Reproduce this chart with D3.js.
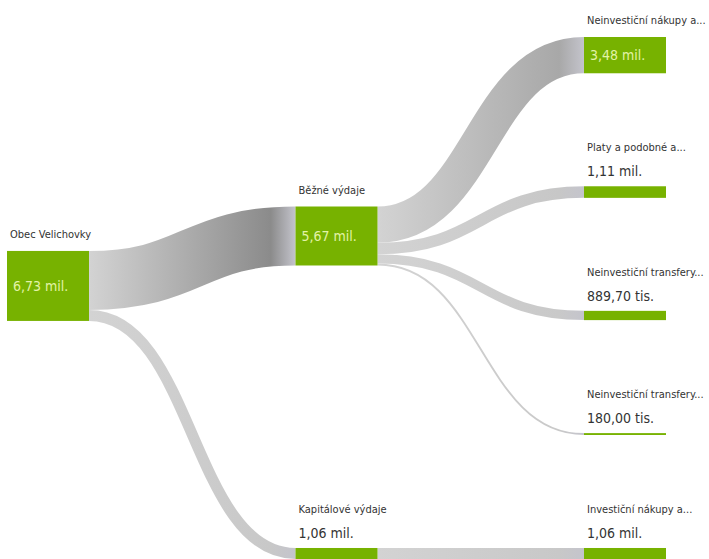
<!DOCTYPE html>
<html>
<head>
<meta charset="utf-8">
<script src="https://cdn.jsdelivr.net/npm/d3@7"></script>
<style>
  html, body { margin: 0; padding: 0; background: #fff; }
  svg { display: block; }
  text { font-family: 'DejaVu Sans Condensed', 'Liberation Sans Narrow', sans-serif; font-stretch: condensed; }
</style>
</head>
<body>
<svg id="svg" width="709" height="559"></svg>
<script>
// uzly a toky rozpočtu (hodnoty v tis. Kč)
const nodeNames = [
  'Obec Velichovky', 'Běžné výdaje', 'Kapitálové výdaje',
  'Neinvestiční nákupy a...', 'Platy a podobné a...',
  'Neinvestiční transfery...', 'Neinvestiční transfery...',
  'Investiční nákupy a...'
]
const linkSources = [0, 0, 1, 1, 1, 1, 2]
const linkTargets = [1, 2, 3, 4, 5, 6, 7]
const linkValues = [5667.7, 1058, 3485, 1113, 889.7, 180, 1058]

const nodeWidth = 82
const nodePadding = 113
const x0 = 7, x1 = 666, y0 = 37, y1 = 559

const fmt = (v) => v >= 1000
  ? d3.format('.2f')(v / 1000).replace('.', ',') + ' mil.'
  : d3.format('.2f')(v).replace('.', ',') + ' tis.'

// jednoduchý sankey layout: listy rozprostřené na celou výšku,
// rodiče se skládají zprava doleva podle svých potomků
const layout = (nodes, links) => {
  nodes.forEach((n) => { n.sourceLinks = []; n.targetLinks = [] })
  links.forEach((l) => { l.source.sourceLinks.push(l); l.target.targetLinks.push(l) })
  nodes.forEach((n) => {
    n.value = Math.max(d3.sum(n.sourceLinks, (l) => l.value), d3.sum(n.targetLinks, (l) => l.value))
  })
  const depthOf = (n) => n.targetLinks.length ? d3.max(n.targetLinks, (l) => depthOf(l.source)) + 1 : 0
  nodes.forEach((n) => { n.depth = depthOf(n) })
  const maxDepth = d3.max(nodes, (n) => n.depth)
  nodes.forEach((n) => { n.layer = n.sourceLinks.length ? n.depth : maxDepth })

  const xScale = d3.scaleLinear().domain([0, maxDepth]).range([x0, x1 - nodeWidth])
  nodes.forEach((n) => { n.x0 = xScale(n.layer); n.x1 = n.x0 + nodeWidth })

  const columns = d3.range(maxDepth + 1).map((i) => nodes.filter((n) => n.layer === i))
  const leaves = columns[maxDepth]
  const hScale = d3.scaleLinear()
    .domain([0, d3.sum(leaves, (n) => n.value)])
    .range([0, y1 - y0 - (leaves.length - 1) * nodePadding])
  links.forEach((l) => { l.width = hScale(l.value) })

  let y = y0
  leaves.forEach((n) => {
    n.y0 = y
    n.y1 = y + hScale(n.value)
    y = n.y1 + nodePadding
  })

  for (let i = maxDepth - 1; i >= 0; --i) {
    columns[i].forEach((n) => {
      const kids = n.sourceLinks.map((l) => l.target)
      const c = i === 0
        ? d3.sum(n.sourceLinks, (l) => l.value * (l.target.y0 + l.target.y1) / 2) / n.value
        : (d3.min(kids, (k) => k.y0) + d3.max(kids, (k) => k.y1)) / 2
      const h = hScale(n.value)
      n.y0 = Math.max(y0, Math.min(y1 - h, c - h / 2))
      n.y1 = n.y0 + h
    })
  }

  nodes.forEach((n) => {
    n.sourceLinks.sort((a, b) => a.target.y0 - b.target.y0)
    n.targetLinks.sort((a, b) => a.source.y0 - b.source.y0)
    let ys = n.y0, yt = n.y0
    n.sourceLinks.forEach((l) => { l.y0 = ys + l.width / 2; ys += l.width })
    n.targetLinks.forEach((l) => { l.y1 = yt + l.width / 2; yt += l.width })
  })
}

const nodes = nodeNames.map((name, i) => ({ name, index: i }))
const links = linkValues.map((value, i) => ({
  source: nodes[linkSources[i]],
  target: nodes[linkTargets[i]],
  value
}))
layout(nodes, links)

const svg = d3.select('#svg')
const defs = svg.append('defs')

const shade = d3.scaleLinear().domain([10, 60]).range(['#c9c9c9', '#8a8a8a']).clamp(true)

links.forEach((l, i) => {
  const grad = defs.append('linearGradient')
    .attr('id', `grad-${i}`)
    .attr('gradientUnits', 'userSpaceOnUse')
    .attr('x1', l.source.x1)
    .attr('x2', l.target.x0)
  grad.append('stop').attr('offset', 0).attr('stop-color', '#d3d3d3')
  grad.append('stop').attr('offset', 0.88).attr('stop-color', shade(l.width))
  grad.append('stop').attr('offset', 1).attr('stop-color', '#c4c4cc')
})

const linkPath = d3.linkHorizontal()
  .source((d) => [d.source.x1, d.y0])
  .target((d) => [d.target.x0, d.y1])

svg.append('g')
  .attr('fill', 'none')
  .selectAll('path')
  .data(links)
  .join('path')
  .attr('d', linkPath)
  .attr('stroke', (d, i) => `url(#grad-${i})`)
  .attr('stroke-width', (d) => Math.max(1, d.width))

const node = svg.append('g')
  .selectAll('g')
  .data(nodes)
  .join('g')

node.append('rect')
  .attr('x', (d) => d.x0)
  .attr('y', (d) => d.y0)
  .attr('width', (d) => d.x1 - d.x0)
  .attr('height', (d) => Math.max(1, d.y1 - d.y0))
  .attr('fill', '#77b200')

const big = (d) => d.y1 - d.y0 > 20

node.append('text')
  .attr('x', (d) => d.x0 + 3)
  .attr('y', (d) => big(d) ? d.y0 - 13 : d.y0 - 35)
  .attr('font-size', 11)
  .attr('fill', '#333')
  .text((d) => d.name)

node.append('text')
  .attr('x', (d) => big(d) ? d.x0 + 6 : d.x0 + 3)
  .attr('y', (d) => big(d) ? (d.y0 + d.y1) / 2 : d.y0 - 10)
  .attr('dy', (d) => big(d) ? '0.35em' : 0)
  .attr('font-size', 14)
  .attr('fill', (d) => big(d) ? '#e3f3a8' : '#333')
  .text((d) => fmt(d.value))
</script>
</body>
</html>
